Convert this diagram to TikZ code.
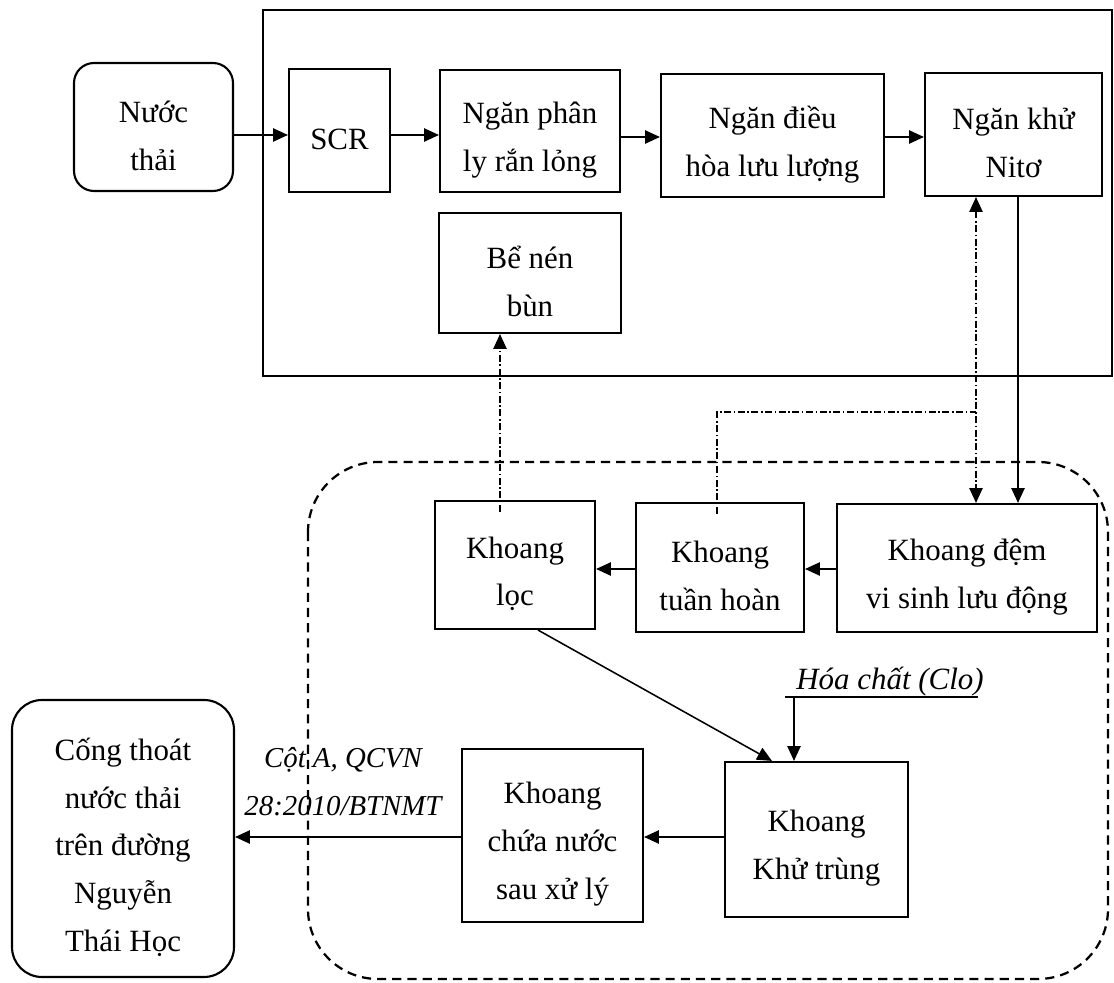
\documentclass[tikz,border=0pt]{standalone}
\usepackage{fontspec}
\setmainfont{Liberation Serif}
\usetikzlibrary{arrows.meta,calc}
\newcommand\pxl{0.025cm}
% box node with text set slightly below the centre, as in the reference
\newcommand\bxnode[7][]{%
  \node[box,#1,minimum width=#5*\pxl,minimum height=#6*\pxl] (#2) at (#3,#4) {};
  \node[txt] (#2-t) at ([yshift=-0.22cm]#2.center) {#7};}
\begin{document}
\begin{tikzpicture}[x=0.025cm,y=-0.025cm,
  box/.style={draw,line width=1.5pt,inner sep=0pt},
  txt/.style={inner sep=0pt,align=center,font=\fontsize{22}{34}\selectfont},
  tip/.style={-{Triangle[length=0.37cm,width=0.33cm]}},
  arr/.style={line width=1.1pt,tip},
  dd/.style={line width=1.1pt,dash pattern=on 5pt off 1.8pt on 1.1pt off 1.8pt},
  lbl/.style={font=\itshape\fontsize{20.5}{34}\selectfont,align=center,inner sep=0pt}]
\useasboundingbox[fill=white] (0,0) rectangle (1114,983);

% frames
\draw[line width=1.5pt] (263,10) rectangle (1112,376);
\draw[line width=1.6pt,dash pattern=on 6.5pt off 4.3pt,rounded corners=1.75cm] (308,462) rectangle (1108,979);

% top nodes
\bxnode[rounded corners=0.5cm]{nuoc}{153.5}{127}{159}{128}{Nước\\thải}
\bxnode{scr}{339.5}{130.5}{101}{123}{SCR}
\bxnode{phanly}{530}{131}{180}{122}{Ngăn phân\\ly rắn lỏng}
\bxnode{dieuhoa}{772.5}{135.5}{223}{123}{Ngăn điều\\hòa lưu lượng}
\bxnode{khu}{1013.5}{134.5}{177}{123}{Ngăn khử\\Nitơ}
\bxnode{benen}{530}{273}{182}{120}{Bể nén\\bùn}

% lower nodes
\bxnode{loc}{515}{565}{160}{128}{Khoang\\lọc}
\bxnode{tuanhoan}{720}{567.5}{168}{129}{Khoang\\tuần hoàn}
\bxnode{dem}{967}{568}{260}{128}{Khoang đệm\\vi sinh lưu động}
\bxnode{khutrung}{816.5}{839.5}{183}{155}{Khoang\\Khử trùng}
\bxnode{chua}{552.5}{835.5}{181}{173}{Khoang\\chứa nước\\sau xử lý}
\bxnode[rounded corners=0.75cm]{cong}{123}{838.5}{222}{277}{Cống thoát\\nước thải\\trên đường\\Nguyễn\\Thái Học}

% labels
\node[lbl] (qc) at (343,782) {Cột A, QCVN\\28:2010/BTNMT};
\node[lbl,font=\itshape\fontsize{22}{34}\selectfont,anchor=base] (clo) at (890,690) {Hóa chất (Clo)};

% helper coordinates
\coordinate (r1) at (0,135);
\coordinate (r2) at (0,137);
\coordinate (r3) at (0,569);
\coordinate (r4) at (0,837);
\coordinate (vs) at (1018,0);
\coordinate (vd) at (976,0);
\coordinate (vt) at (717,0);
\coordinate (vl) at (500,0);
\coordinate (hy) at (0,412);
\coordinate (d1) at (538,0);
\coordinate (d2) at (772,0);
\coordinate (vc) at (794,0);
\coordinate (ul1) at (785,697);
\coordinate (ul2) at (978,697);

% top arrows
\draw[arr] (nuoc.east |- r1) -- (scr.west |- r1);
\draw[arr] (scr.east |- r1) -- (phanly.west |- r1);
\draw[arr] (phanly.east |- r2) -- (dieuhoa.west |- r2);
\draw[arr] (dieuhoa.east |- r2) -- (khu.west |- r2);

% verticals between frames
\draw[arr] (khu.south -| vs) -- (dem.north -| vs);
\draw[dd,{Triangle[length=0.37cm,width=0.33cm]}-{Triangle[length=0.37cm,width=0.33cm]}] (khu.south -| vd) -- (dem.north -| vd);
\draw[dd] ([yshift=-0.3cm]tuanhoan.north -| vt) -- (vt |- hy) -- (vd |- hy);
\draw[dd,tip] ([yshift=-0.3cm]loc.north -| vl) -- (benen.south -| vl);

% lower arrows
\draw[arr] (dem.west |- r3) -- (tuanhoan.east |- r3);
\draw[arr] (tuanhoan.west |- r3) -- (loc.east |- r3);
\draw[arr] (loc.south -| d1) -- (khutrung.north -| d2);
\draw[line width=1.1pt] (ul1) -- (ul2);
\draw[arr] (ul1 -| vc) -- (khutrung.north -| vc);
\draw[arr] (khutrung.west |- r4) -- (chua.east |- r4);
\draw[arr] (chua.west |- r4) -- (cong.east |- r4);
\end{tikzpicture}
\end{document}
